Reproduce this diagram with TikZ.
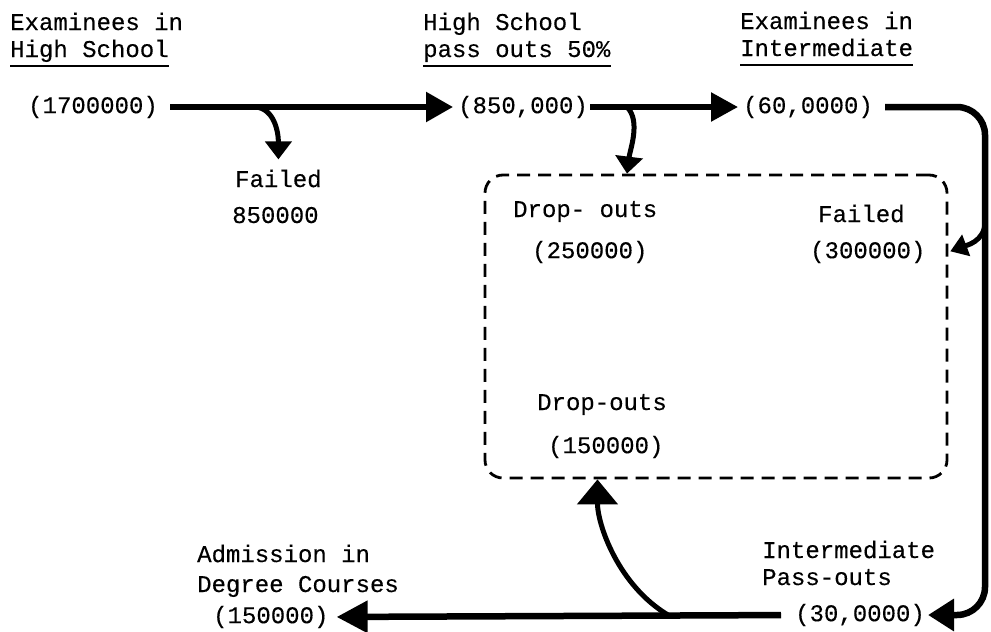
\documentclass[tikz,border=0pt]{standalone}
\usepackage{fontspec}
\setmonofont{Liberation Mono}[FakeBold=0.3]
\usetikzlibrary{arrows.meta,calc}
\tikzset{
  lbl/.style={font=\ttfamily\fontsize{24}{29}\selectfont, inner sep=0pt, anchor=base west},
  num/.style={font=\ttfamily\fontsize{24}{29}\selectfont, inner sep=0pt, anchor=west},
  uline/.style={line width=1.4pt},
  bigarrow/.style={line width=5.5pt, -{Triangle[length=27pt,width=29pt]}},
  brarrow/.style={line width=5pt, -{Triangle[length=18pt,width=26pt]}},
  dashbox/.style={draw, dash pattern=on 13pt off 8pt, line width=2.8pt, rounded corners=18pt,
    minimum width=462pt, minimum height=303pt, inner sep=0pt}
}
\begin{document}
\begin{tikzpicture}[x=1pt,y=-1pt]
\useasboundingbox (0,0) rectangle (991,632);

% headings
\node[lbl] (h1a) at (10,30) {Examinees in};
\node[lbl] (h1b) at (10,57) {High School};
\node[lbl] (h2a) at (423,30) {High School};
\node[lbl] (h2b) at (423,57) {pass outs 50\%};
\node[lbl] (h3a) at (740,29) {Examinees in};
\node[lbl] (h3b) at (740,56) {Intermediate};
\foreach \n in {h1b,h2b,h3b}
  \draw[uline] ([yshift=-9pt]\n.base west) -- ([yshift=-9pt]\n.base east);

% numbers on the top row
\node[num] (n1) at (28,107) {(1700000)};
\node[num] (n2) at (458,107) {(850,000)};
\node[num] (n3) at (743,107) {(60,0000)};

% failed after high school
\node[lbl] (f1a) at (235,187) {Failed};
\node[lbl] (f1b) at (232,223) {850000};

% dashed box
\node[dashbox] (box) at (716,326.5) {};
\node[lbl] (d1a) at (513,217) {Drop- outs};
\node[num] (d1b) at (532,252) {(250000)};
\node[lbl] (fl2a) at (818,222) {Failed};
\node[num] (fl2b) at (810,252) {(300000)};
\node[lbl] (d2a) at (537,410) {Drop-outs};
\node[num] (d2b) at (548,447) {(150000)};

% bottom labels
\node[lbl] (a1) at (197,562) {Admission in};
\node[lbl] (a2) at (197,592) {Degree Courses};
\node[num] (a3) at (213,617) {(150000)};
\node[lbl] (i1) at (762,558) {Intermediate};
\node[lbl] (i2) at (762,585) {Pass-outs};
\node[num] (i3) at (795,615) {(30,0000)};

% branch points
\coordinate (b1) at (256,107);
\coordinate (b2) at (627,107);
\coordinate (rc) at (985,0);
\coordinate (b3) at (985,222);
\coordinate (b4) at (668,615);

% main flow
\draw[bigarrow, shorten <=12pt, shorten >=5pt] (n1.east) -- (n2.west);
\draw[bigarrow, -{Triangle[length=27pt,width=28pt]}, shorten <=2pt, shorten >=5pt] (n2.east) -- (n3.west);
\draw[bigarrow, line width=6.5pt, rounded corners=28pt, shorten <=12pt, shorten >=3pt,
      -{Triangle[length=26pt,width=31pt]}]
  (n3.east) -- (n3.east -| rc) -- (i3.east -| rc) -- (i3.east);
\draw[bigarrow, line width=6.5pt, -{Triangle[length=31pt,width=31pt]}, shorten <=14pt, shorten >=8pt]
  (i3.west) -- (a3.east);

% branches
\draw[brarrow] (b1) .. controls +(18,2) and +(0,-28) .. ([yshift=10pt]f1a.north);
\draw[brarrow, -{Triangle[length=17pt,width=27pt]}]
  (b2) .. controls +(14,14) and +(3,-24) .. (b2 |- box.north);
\draw[brarrow, -{Triangle[length=17pt,width=22pt]}, shorten >=2pt]
  (b3) .. controls +(0,20) and +(16,-6) .. (box.east |- fl2b.west);
\draw[brarrow, -{Triangle[length=25pt,width=40pt]}]
  (b4) .. controls +(-50,-30) and +(0,45) .. ($(box.south west)!0.245!(box.south east)$);

\end{tikzpicture}
\end{document}
